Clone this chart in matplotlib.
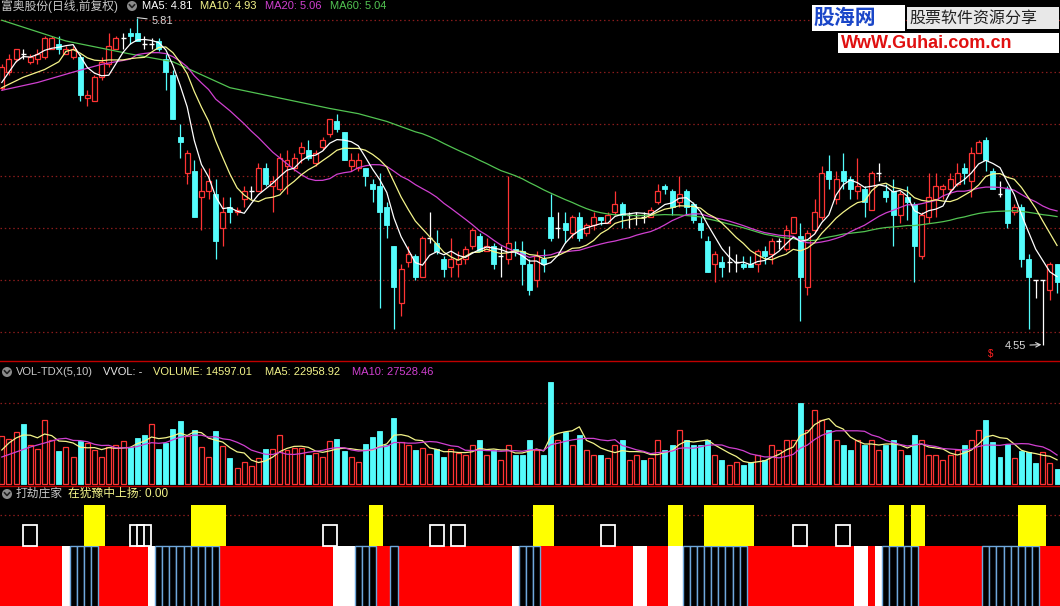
import numpy as np
import pandas as pd
import matplotlib
matplotlib.use('Agg')
import matplotlib.pyplot as plt
from matplotlib.patches import Rectangle, Circle
from matplotlib.lines import Line2D

# ---------------- data ----------------
opens = [5.54,5.60,5.65,5.67,5.64,5.65,5.66,5.69,5.71,5.67,5.66,5.66,5.50,5.49,5.58,5.63,5.69,5.73,5.75,5.75,
         5.71,5.71,5.72,5.65,5.59,5.35,5.21,5.22,5.12,5.14,5.13,5.00,5.08,5.06,5.11,5.14,5.14,5.23,5.16,5.15,
         5.24,5.23,5.29,5.30,5.25,5.31,5.36,5.41,5.37,5.24,5.23,5.23,5.17,5.16,5.08,4.93,4.71,4.87,4.89,4.81,
         4.96,4.94,4.88,4.85,4.86,4.88,4.93,4.97,4.91,4.93,4.89,4.88,4.92,4.91,4.86,4.80,4.88,5.04,5.00,5.02,
         4.98,5.04,4.98,5.01,5.04,5.02,5.06,5.09,5.05,5.05,5.04,5.04,5.10,5.16,5.14,5.10,5.14,5.09,5.02,4.95,
         4.86,4.87,4.87,4.87,4.86,4.86,4.86,4.91,4.90,4.95,4.92,4.98,4.97,4.77,4.99,5.04,5.22,5.11,5.22,5.19,
         5.14,5.15,5.07,5.21,5.14,5.14,5.05,5.12,5.09,4.89,5.04,5.11,5.15,5.15,5.17,5.23,5.18,5.29,5.34,5.22,
         5.13,5.15,5.06,5.08,4.88,4.80,4.80,4.76,4.86]
highs = [5.63,5.67,5.69,5.69,5.67,5.69,5.74,5.74,5.74,5.70,5.70,5.67,5.53,5.59,5.66,5.75,5.74,5.75,5.77,5.81,
         5.74,5.73,5.73,5.67,5.61,5.40,5.30,5.26,5.23,5.23,5.19,5.12,5.12,5.08,5.16,5.16,5.25,5.25,5.20,5.29,
         5.30,5.29,5.33,5.34,5.30,5.35,5.42,5.44,5.37,5.29,5.29,5.23,5.19,5.21,5.10,4.93,4.86,4.93,4.90,4.97,
         5.06,4.99,4.89,4.96,4.91,4.93,5.00,4.98,4.96,4.94,4.93,5.20,4.95,4.95,4.88,4.91,4.92,5.13,5.06,5.06,
         5.05,5.06,5.02,5.06,5.04,5.06,5.14,5.10,5.06,5.06,5.06,5.08,5.17,5.17,5.15,5.20,5.15,5.10,5.04,4.97,
         4.91,4.89,4.93,4.90,4.89,4.89,4.92,4.93,4.96,4.96,5.01,5.04,5.02,4.99,5.11,5.24,5.28,5.22,5.29,5.20,
         5.27,5.16,5.22,5.25,5.17,5.19,5.14,5.16,5.10,5.06,5.21,5.21,5.17,5.21,5.25,5.25,5.31,5.34,5.35,5.23,
         5.18,5.16,5.09,5.09,4.90,4.80,4.80,4.87,4.86]
lows = [5.53,5.59,5.64,5.65,5.63,5.63,5.65,5.69,5.67,5.67,5.65,5.49,5.47,5.49,5.57,5.62,5.69,5.69,5.71,5.72,
        5.69,5.69,5.68,5.53,5.42,5.27,5.17,5.04,4.99,5.11,4.88,4.93,5.02,5.05,5.08,5.11,5.14,5.16,5.06,5.14,
        5.13,5.22,5.25,5.26,5.24,5.30,5.35,5.37,5.26,5.22,5.22,5.16,5.10,4.69,4.96,4.61,4.66,4.85,4.80,4.81,
        4.94,4.90,4.81,4.81,4.81,4.86,4.92,4.91,4.91,4.84,4.81,4.86,4.89,4.78,4.74,4.77,4.83,4.95,4.96,4.94,
        4.96,4.95,4.97,4.99,5.01,5.02,5.05,5.00,5.00,5.01,5.02,5.04,5.09,5.13,5.05,5.08,5.05,5.02,4.96,4.83,
        4.79,4.81,4.83,4.83,4.84,4.85,4.83,4.86,4.86,4.92,4.91,4.98,4.64,4.74,4.98,5.03,5.15,5.09,5.15,5.11,
        5.11,5.04,5.07,5.18,5.10,4.93,5.02,5.03,4.79,4.88,5.02,5.04,5.11,5.13,5.16,5.17,5.12,5.29,5.22,5.15,
        5.12,5.00,5.05,4.85,4.61,4.73,4.55,4.72,4.75]
closes = [5.62,5.65,5.69,5.67,5.66,5.67,5.73,5.73,5.69,5.69,5.69,5.51,5.51,5.58,5.64,5.70,5.73,5.73,5.74,5.72,
          5.71,5.71,5.69,5.60,5.42,5.33,5.29,5.04,5.14,5.18,4.95,5.06,5.06,5.07,5.14,5.14,5.23,5.17,5.18,5.27,
          5.26,5.27,5.31,5.27,5.29,5.34,5.42,5.38,5.26,5.26,5.26,5.20,5.15,5.06,5.01,4.77,4.84,4.90,4.81,4.96,
          4.96,4.91,4.84,4.88,4.88,4.92,4.99,4.91,4.93,4.86,4.89,4.94,4.91,4.86,4.76,4.89,4.86,4.96,5.00,4.99,
          5.04,4.96,5.01,5.04,5.03,5.05,5.09,5.05,5.05,5.05,5.04,5.07,5.14,5.15,5.08,5.13,5.08,5.03,4.99,4.83,
          4.90,4.85,4.87,4.87,4.85,4.85,4.91,4.89,4.95,4.95,4.99,5.04,4.81,4.98,5.06,5.21,5.19,5.19,5.18,5.15,
          5.16,5.10,5.21,5.21,5.12,5.05,5.13,5.10,4.93,5.05,5.12,5.16,5.16,5.19,5.21,5.21,5.29,5.33,5.26,5.15,
          5.13,5.02,5.08,4.88,4.81,4.80,4.80,4.86,4.79]
volumes = [45600,42750,49400,57000,37000,33250,60800,41800,31350,35150,25650,40850,38950,32300,25650,35150,37050,40850,35150,43700,
           46550,57000,33250,39200,52250,59850,45600,51300,34850,25950,50650,36100,25000,14900,20600,17100,24400,32950,32950,46550,
           32300,33900,33900,27550,29150,25950,40850,42750,31650,25950,21200,37700,44350,50350,37050,62400,40200,37050,32300,33900,
           28200,32950,25950,32950,29750,27550,37050,41800,27550,32300,22800,37050,27550,27550,41800,32300,27550,96900,41800,49400,
           37050,46550,32300,27550,27550,24700,37050,41800,22800,27550,22800,24700,41800,32300,37050,51300,41800,37050,37050,41800,
           27550,22800,18050,20900,18050,20900,27550,22800,37050,32300,41800,41800,76950,51300,70300,60800,51300,41800,37050,32300,
           41800,37050,41800,32300,37050,41800,32300,27550,46550,41800,27550,27550,22800,27550,32300,37050,41800,51300,60800,40000,
           26000,38000,25000,31490,30000,20000,30000,20200,14597.01]

ma5_head_idx, ma5_head = [0, 1, 2, 3], [5.56, 5.60, 5.64, 5.66]
ma10_head_idx, ma10_head = [0, 3, 6, 8], [5.54, 5.58, 5.61, 5.64]
ma20_head_idx, ma20_head = [0, 5, 10, 14, 18], [5.53, 5.56, 5.60, 5.63, 5.65]
ma60_head_idx = [0, 9, 18, 24, 32, 46, 50, 54, 56, 58]
ma60_head = [5.80, 5.72, 5.67, 5.64, 5.54, 5.46, 5.44, 5.41, 5.39, 5.37]
vma5_head_idx, vma5_head = [0, 1, 2, 3], [32300, 38950, 43700, 46550]
vma10_head_idx, vma10_head = [0, 2, 4, 6, 8], [25650, 30400, 35150, 38950, 42750]

price_grid = [4.60, 4.80, 5.00, 5.20, 5.40, 5.60, 5.80]
vol_grid = [77000]

# indicator "打劫庄家": R red, W white, B hollow blue sticks
ind_runs = [('R', 9), ('W', 1), ('B', 4), ('R', 7), ('W', 1), ('B', 9), ('R', 16), ('W', 3), ('B', 3),
            ('R', 2), ('B', 1), ('R', 16), ('W', 1), ('B', 3), ('R', 13), ('W', 2), ('R', 3), ('W', 2),
            ('B', 9), ('R', 15), ('W', 2), ('R', 1), ('W', 1), ('B', 5), ('R', 9), ('B', 8), ('R', 3)]
yellow_bars = [12, 13, 14, 27, 28, 29, 30, 31, 52, 53, 75, 76, 77, 94, 95, 99, 100, 101, 102, 103, 104, 105,
               125, 126, 128, 129, 143, 144, 145, 146]
box_bars = [4, 19, 20, 46, 61, 64, 85, 112, 118]

header_ma = {'MA5': 4.81, 'MA10': 4.93, 'MA20': 5.06, 'MA60': 5.04}
header_vol = {'VOLUME': 14597.01, 'MA5': 22958.92, 'MA10': 27528.46}

# ---------------- styling ----------------
W, H = 1060, 606
RED = '#ff3434'
CYAN = '#54fcfc'
BG = 'black'
GRID = '#8a1c1c'
FONT = ['Liberation Sans', 'Noto Sans CJK SC', 'DejaVu Sans']
plt.rcParams['font.family'] = FONT

N = len(closes)
x = np.arange(N)
df = pd.DataFrame({'o': opens, 'h': highs, 'l': lows, 'c': closes, 'v': volumes})
prev_c = df['c'].shift(1).fillna(df['c'])
up = (df['c'] > df['o']) | ((df['c'] == df['o']) & (df['c'] >= prev_c))

fig = plt.figure(figsize=(W / 100, H / 100), dpi=100, facecolor=BG)

def add_ax(y_top, y_bot):
    ax = fig.add_axes([0, 1 - y_bot / H, 1, (y_bot - y_top) / H])
    ax.set_facecolor(BG)
    ax.set_axis_off()
    ax.set_xlim((0 - 1.8) / 7.13, (W - 1.8) / 7.13)
    return ax

ax_p = add_ax(0, 361)
ax_v = add_ax(361, 486)
ax_i = add_ax(486, 606)

ax_p.set_ylim(5.878 - 0.003854 * 361, 5.878)
ax_v.set_ylim(-1900, 116850)
ax_i.set_ylim(0, 120)

dot = (0, (1.2, 2.2))
for g in price_grid:
    ax_p.axhline(g, color=GRID, lw=0.9, ls=dot, zorder=0)
for g in vol_grid:
    ax_v.axhline(g, color=GRID, lw=0.9, ls=dot, zorder=0)
ax_i.axhline(91, color=GRID, lw=0.9, ls=dot, zorder=0)

# ---------------- candles ----------------
bw = 0.70
for i in range(N):
    o, h, l, c = opens[i], highs[i], lows[i], closes[i]
    if c == o:
        ax_p.vlines(i, l, h, color='white', lw=0.9, zorder=3)
        ax_p.hlines(c, i - bw / 2, i + bw / 2, color='white', lw=1.0, zorder=3)
    elif c > o:
        ax_p.vlines(i, c, h, color=RED, lw=0.9, zorder=3)
        ax_p.vlines(i, l, o, color=RED, lw=0.9, zorder=3)
        ax_p.add_patch(Rectangle((i - bw / 2, o), bw, c - o, facecolor=BG, edgecolor=RED, lw=0.9, zorder=4))
    else:
        ax_p.vlines(i, l, h, color=CYAN, lw=0.9, zorder=3)
        ax_p.add_patch(Rectangle((i - bw / 2, c), bw, o - c, facecolor=CYAN, edgecolor=CYAN, lw=0.6, zorder=4))

def ma_line(series, n, head_idx, head_vals):
    m = series.rolling(n).mean()
    xs = list(head_idx) + list(range(n - 1, N))
    ys = list(head_vals) + list(m.iloc[n - 1:])
    return xs, ys

cs = pd.Series(closes)
for (n, hi, hv, col) in [(60, ma60_head_idx, ma60_head, '#52c452'),
                         (20, ma20_head_idx, ma20_head, '#d040d0'),
                         (10, ma10_head_idx, ma10_head, '#f4f48a'),
                         (5, ma5_head_idx, ma5_head, '#ffffff')]:
    xs, ys = ma_line(cs, n, hi, hv)
    ax_p.plot(xs, ys, color=col, lw=0.9, zorder=5)

# high / low labels
ih = int(np.argmax(highs))
ax_p.annotate(f'{highs[ih]:.2f}', xy=(ih, highs[ih]), xytext=(14, -3), textcoords='offset pixels',
              color='#d8d8d8', fontsize=8, va='center', ha='left',
              arrowprops=dict(arrowstyle='-', color='#d8d8d8', lw=0.8, shrinkA=1, shrinkB=0))
il = int(np.argmin(lows))
ax_p.annotate(f'{lows[il]:.2f}', xy=(il, lows[il]), xytext=(-17, -1), textcoords='offset pixels',
              color='#d8d8d8', fontsize=8, va='center', ha='right',
              arrowprops=dict(arrowstyle='->', color='#d8d8d8', lw=0.8, shrinkA=1, shrinkB=1))

# ---------------- volume ----------------
vb = 0.70
for i in range(N):
    v = volumes[i]
    if up[i]:
        ax_v.add_patch(Rectangle((i - vb / 2, 0), vb, v, facecolor=BG, edgecolor=RED, lw=0.9, zorder=3))
    else:
        ax_v.add_patch(Rectangle((i - vb / 2, 0), vb, v, facecolor=CYAN, edgecolor=CYAN, lw=0.6, zorder=3))
vs = pd.Series(volumes)
xs, ys = ma_line(vs, 5, vma5_head_idx, vma5_head)
ax_v.plot(xs, ys, color='#f4f48a', lw=0.9, zorder=5)
xs, ys = ma_line(vs, 10, vma10_head_idx, vma10_head)
ax_v.plot(xs, ys, color='#d040d0', lw=0.9, zorder=5)

# ---------------- indicator ----------------
codes = []
for k, n in ind_runs:
    codes += [k] * n
for i, k in enumerate(codes[:N]):
    if k == 'R':
        ax_i.bar(i, 70, bottom=-10, width=1.0, color='#ff0000', lw=0, zorder=2)
    elif k == 'W':
        ax_i.bar(i, 70, bottom=-10, width=1.0, color='white', lw=0, zorder=2)
    else:
        ax_i.bar(i, 70.5, bottom=-10, width=1.0, facecolor=BG, edgecolor='#6fa8dc', lw=1.0, zorder=3)
for i in yellow_bars:
    ax_i.bar(i, 40.5, bottom=60.5, width=1.0, color='#ffff00', lw=0, zorder=4)
for i in box_bars:
    ax_i.add_patch(Rectangle((i - 0.98, 60.5), 1.96, 20.5, facecolor='none', edgecolor='white', lw=1.3, zorder=5))

# separators
for yy in (361, 486):
    fig.add_artist(Line2D([0, 1], [1 - yy / H, 1 - yy / H], color='#c00000', lw=1.0, transform=fig.transFigure))

# ---------------- texts ----------------
def ftxt(px, py, s, col, fs=8, **kw):
    fig.text(px / W, 1 - py / H, s, color=col, fontsize=fs, va='center', ha='left', **kw)

def icon(px, py):
    fig.add_artist(Circle((px / 100, (H - py) / 100), 0.05, transform=fig.dpi_scale_trans,
                          facecolor='#8c8c8c', edgecolor='none'))
    fig.add_artist(Line2D([(px - 2.5) / 100, px / 100, (px + 2.5) / 100],
                          [(H - py + 1.2) / 100, (H - py - 1.5) / 100, (H - py + 1.2) / 100],
                          color='#202020', lw=1.2, transform=fig.dpi_scale_trans))

ftxt(1, 6, '富奥股份(日线,前复权)', '#c8c8c8', 8.5)
icon(132, 6)
ftxt(142, 6, f"MA5: {header_ma['MA5']:.2f}", '#ffffff')
ftxt(200, 6, f"MA10: {header_ma['MA10']:.2f}", '#f4f48a')
ftxt(265, 6, f"MA20: {header_ma['MA20']:.2f}", '#d040d0')
ftxt(330, 6, f"MA60: {header_ma['MA60']:.2f}", '#52c452')

icon(7, 372)
ftxt(16, 372, 'VOL-TDX(5,10)', '#c8c8c8')
ftxt(103, 372, 'VVOL: -', '#e8e8e8')
ftxt(153, 372, f"VOLUME: {header_vol['VOLUME']:.2f}", '#f4f48a')
ftxt(265, 372, f"MA5: {header_vol['MA5']:.2f}", '#f4f48a')
ftxt(352, 372, f"MA10: {header_vol['MA10']:.2f}", '#d040d0')

icon(7, 494)
ftxt(16, 494, '打劫庄家', '#c8c8c8', 8.5)
ftxt(68, 494, '在犹豫中上扬: 0.00', '#f4f48a', 8.5)

ftxt(988, 354, '$', '#ff2020', 7)

# watermark
fig.add_artist(Rectangle((812 / W, 1 - 31 / H), 93 / W, 26 / H, transform=fig.transFigure,
                         facecolor='white', edgecolor='none'))
fig.add_artist(Rectangle((907 / W, 1 - 29 / H), 152 / W, 22 / H, transform=fig.transFigure,
                         facecolor='#e8e8e8', edgecolor='none'))
fig.add_artist(Rectangle((838 / W, 1 - 53 / H), 221 / W, 20 / H, transform=fig.transFigure,
                         facecolor='white', edgecolor='none'))
ftxt(814, 18, '股海网', '#1a46c8', 15, fontweight='bold')
ftxt(909, 18, '股票软件资源分享', '#202020', 11.5)
ftxt(841, 43, 'WwW.Guhai.com.cn', '#e01010', 13, fontweight='bold')

fig.savefig('out.png', dpi=100, facecolor=BG)
